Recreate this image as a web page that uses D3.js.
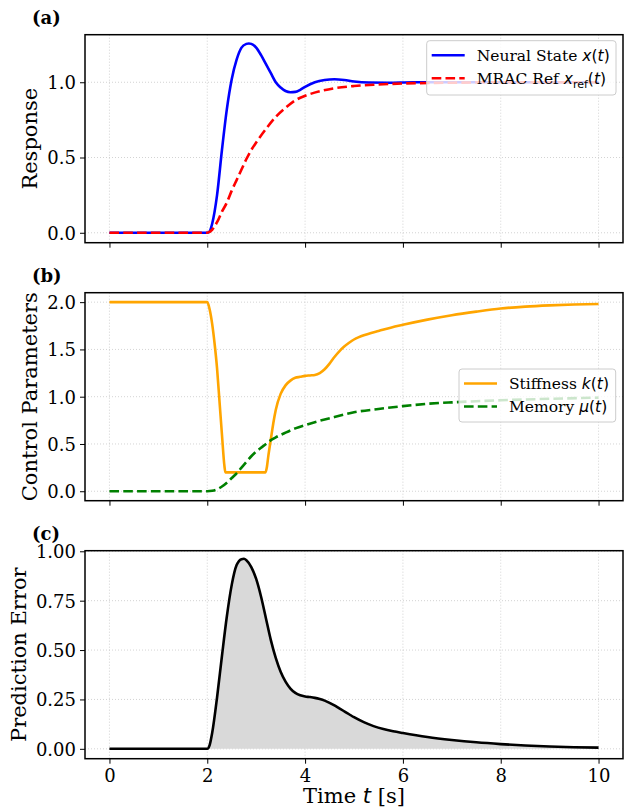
<!DOCTYPE html>
<html>
<head>
<meta charset="utf-8">
<script src="https://cdn.jsdelivr.net/npm/d3@7"></script>
<style>
  body { margin: 0; background: #fff; }
  text { font-family: "DejaVu Serif", serif; }
  .math { font-family: "DejaVu Sans", sans-serif; }
</style>
</head>
<body>
<svg id="chart" width="624" height="808"></svg>
<script>
// ---- data ----
let timeTicks = [0, 2, 4, 6, 8, 10];

// (a) neural state x(t)
let stateT = [0, 2.0, 2.05, 2.1, 2.2, 2.3, 2.4, 2.5, 2.6, 2.7, 2.8, 2.85, 2.9, 3.0, 3.1, 3.2, 3.3, 3.4,
  3.5, 3.6, 3.7, 3.8, 3.9, 4.0, 4.2, 4.4, 4.6, 4.8, 5.0, 5.3, 5.7, 6.2, 7, 8, 9, 10];
let stateX = [0, 0, 0.01, 0.06, 0.25, 0.55, 0.82, 1.02, 1.15, 1.23, 1.255, 1.258, 1.255, 1.23, 1.18, 1.12,
  1.06, 1.0, 0.965, 0.942, 0.934, 0.936, 0.95, 0.97, 1.0, 1.015, 1.02, 1.015, 1.005, 0.998, 0.997, 1.0,
  1.0, 1.0, 1.0, 1.0];

// (a) MRAC reference x_ref(t)
let refT = [0, 2.0, 2.1, 2.2, 2.3, 2.4, 2.5, 2.6, 2.7, 2.8, 2.9, 3.0, 3.2, 3.4, 3.6, 3.8, 4.0, 4.3, 4.6,
  5.0, 5.5, 6.0, 7.0, 8.0, 9.0, 10];
let refX = [0, 0, 0.02, 0.07, 0.14, 0.2, 0.28, 0.35, 0.42, 0.49, 0.55, 0.6, 0.69, 0.77, 0.83, 0.88, 0.91,
  0.94, 0.96, 0.975, 0.985, 0.992, 0.997, 1.0, 1.0, 1.0];

// (b) stiffness k(t)
let stiffT = [0, 2.0, 2.05, 2.1, 2.15, 2.2, 2.25, 2.3, 2.35, 2.37, 3.19, 3.22, 3.25, 3.3, 3.35, 3.4, 3.5,
  3.6, 3.7, 3.8, 3.9, 4.0, 4.1, 4.2, 4.3, 4.4, 4.5, 4.6, 4.7, 4.8, 4.9, 5.0, 5.1, 5.2, 5.35, 5.5, 5.75,
  6.0, 6.5, 7.0, 7.5, 8.0, 8.5, 9.0, 9.5, 10];
let stiffK = [2, 2, 1.92, 1.77, 1.56, 1.3, 0.95, 0.6, 0.27, 0.2, 0.2, 0.26, 0.38, 0.55, 0.72, 0.86, 1.03,
  1.12, 1.17, 1.2, 1.21, 1.22, 1.225, 1.23, 1.25, 1.29, 1.35, 1.42, 1.48, 1.53, 1.57, 1.605, 1.63, 1.65,
  1.675, 1.695, 1.73, 1.76, 1.815, 1.862, 1.9, 1.933, 1.953, 1.966, 1.975, 1.98];

// (b) memory mu(t)
let memT = [0, 2.0, 2.1, 2.2, 2.3, 2.4, 2.5, 2.6, 2.7, 2.8, 2.9, 3.0, 3.1, 3.2, 3.3, 3.4, 3.6, 3.8, 4.0,
  4.3, 4.6, 5.0, 5.5, 6.0, 6.5, 7.0, 7.5, 8.0, 9.0, 10];
let memMu = [0, 0, 0.005, 0.02, 0.05, 0.09, 0.14, 0.19, 0.25, 0.31, 0.37, 0.42, 0.46, 0.5, 0.54, 0.57,
  0.62, 0.665, 0.7, 0.745, 0.785, 0.835, 0.87, 0.9, 0.925, 0.94, 0.952, 0.962, 0.978, 0.99];

// (c) prediction error
let errT = [0, 2.0, 2.05, 2.1, 2.2, 2.3, 2.4, 2.5, 2.6, 2.7, 2.75, 2.8, 2.9, 3.0, 3.1, 3.2, 3.3, 3.4,
  3.5, 3.6, 3.7, 3.8, 3.9, 4.0, 4.1, 4.2, 4.3, 4.4, 4.5, 4.6, 4.7, 4.8, 4.9, 5.0, 5.2, 5.4, 5.6, 5.8,
  6.0, 6.5, 7.0, 7.5, 8.0, 8.5, 9.0, 9.5, 10];
let errE = [0, 0, 0.02, 0.08, 0.26, 0.47, 0.67, 0.83, 0.93, 0.96, 0.962, 0.955, 0.92, 0.86, 0.77, 0.66,
  0.55, 0.46, 0.39, 0.34, 0.305, 0.283, 0.271, 0.265, 0.262, 0.258, 0.252, 0.244, 0.233, 0.22, 0.205,
  0.19, 0.175, 0.16, 0.135, 0.115, 0.1, 0.089, 0.08, 0.06, 0.045, 0.033, 0.024, 0.017, 0.012, 0.008,
  0.006];

let ticksA = [0, 0.5, 1.0];
let ticksB = [0, 0.5, 1.0, 1.5, 2.0];
let ticksC = [0, 0.25, 0.5, 0.75, 1.0];

// ---- layout ----
let svg = d3.select('#chart');
let left = 85, right = 623, panelH = 208;
let tops = [34.7, 292.7, 550.7];

let xScale = d3.scaleLinear().domain([-0.5, 10.5]).range([left, right]);

function zip(ts, vs) {
  return ts.map((t, i) => ({t: t, v: vs[i]}));
}

function makePanel(top, yDomain, yTicks, fmt, showX) {
  let g = svg.append('g');
  let y = d3.scaleLinear().domain(yDomain).range([top + panelH, top]);

  // grid
  g.selectAll('.gx').data(timeTicks).enter().append('line')
    .attr('x1', (d) => xScale(d)).attr('x2', (d) => xScale(d))
    .attr('y1', top).attr('y2', top + panelH)
    .attr('stroke', '#c8c8c8').attr('stroke-width', 0.8).attr('stroke-dasharray', '1,2');
  g.selectAll('.gy').data(yTicks).enter().append('line')
    .attr('x1', left).attr('x2', right)
    .attr('y1', (d) => y(d)).attr('y2', (d) => y(d))
    .attr('stroke', '#c8c8c8').attr('stroke-width', 0.8).attr('stroke-dasharray', '1,2');

  // axes
  let yAxis = d3.axisLeft(y).tickValues(yTicks).tickFormat(d3.format(fmt)).tickSize(5).tickPadding(4);
  let ya = g.append('g').attr('transform', `translate(${left},0)`).call(yAxis);
  let xAxis = d3.axisBottom(xScale).tickValues(timeTicks).tickSize(5).tickPadding(5)
    .tickFormat(showX ? d3.format('d') : '');
  let xa = g.append('g').attr('transform', `translate(0,${top + panelH})`).call(xAxis);
  [ya, xa].forEach((a) => {
    a.select('.domain').remove();
    a.selectAll('line').attr('stroke', '#000').attr('stroke-width', 1);
    a.selectAll('text').attr('font-family', 'DejaVu Serif').attr('font-size', 18).attr('fill', '#000');
  });
  ya.selectAll('text').attr('dy', '0.36em');
  xa.selectAll('text').attr('dy', '0.76em');

  return {g: g, y: y, top: top};
}

function frame(p) {
  p.g.append('rect')
    .attr('x', left).attr('y', p.top).attr('width', right - left).attr('height', panelH)
    .attr('fill', 'none').attr('stroke', '#000').attr('stroke-width', 1.5);
}

function drawLine(p, data, color, dash) {
  let line = d3.line().x((d) => xScale(d.t)).y((d) => p.y(d.v)).curve(d3.curveMonotoneX);
  p.g.append('path').datum(data)
    .attr('d', line)
    .attr('fill', 'none')
    .attr('stroke', color)
    .attr('stroke-width', 2.6)
    .attr('stroke-dasharray', dash || null);
}

function panelLabel(text, top) {
  svg.append('text').attr('x', 32).attr('y', top - 11)
    .attr('font-size', 18).attr('font-weight', 'bold').text(text);
}

function yLabel(text, x, top) {
  svg.append('text')
    .attr('transform', `translate(${x},${top + panelH / 2}) rotate(-90)`)
    .attr('text-anchor', 'middle').attr('font-size', 21).text(text);
}

// legend entry: parts is list of [text, kind] with kind 'rm' | 'it' | 'sub' | 'mrm'
function legend(p, x, y, w, h, entries) {
  let lg = p.g.append('g');
  lg.append('rect').attr('x', x).attr('y', y).attr('width', w).attr('height', h)
    .attr('rx', 3).attr('fill', '#fff').attr('fill-opacity', 0.8)
    .attr('stroke', '#cccccc').attr('stroke-width', 1);
  entries.forEach((e, i) => {
    let cy = y + 14.5 + i * 23;
    lg.append('line').attr('x1', x + 5).attr('x2', x + 38).attr('y1', cy).attr('y2', cy)
      .attr('stroke', e.color).attr('stroke-width', 2.6).attr('stroke-dasharray', e.dash || null);
    let t = lg.append('text').attr('x', x + 50).attr('y', cy).attr('dy', '0.36em').attr('font-size', 15.5);
    e.parts.forEach((pt) => {
      let s = t.append('tspan').text(pt[0]);
      if (pt[1] === 'it') s.attr('class', 'math').attr('font-style', 'oblique');
      if (pt[1] === 'mrm') s.attr('class', 'math');
      if (pt[1] === 'sub') s.attr('class', 'math').attr('font-size', 11).attr('dy', 4);
      if (pt[1] === 'after') s.attr('class', 'math').attr('dy', -4);
    });
  });
}

// ---- panel (a) ----
let pa = makePanel(tops[0], [-0.066, 1.316], ticksA, '.1f', false);
drawLine(pa, zip(stateT, stateX), '#0000ff');
drawLine(pa, zip(refT, refX), '#ff0000', '9.6,4.2');
frame(pa);
legend(pa, 426.7, 40.7, 189.3, 54.3, [
  {color: '#0000ff', parts: [['Neural State ', 'rm'], ['x', 'it'], ['(', 'mrm'], ['t', 'it'], [')', 'mrm']]},
  {color: '#ff0000', dash: '9.6,4.2', parts: [['MRAC Ref ', 'rm'], ['x', 'it'], ['ref', 'sub'], ['(', 'after'], ['t', 'it'], [')', 'mrm']]}
]);
panelLabel('(a)', tops[0]);
yLabel('Response', 37, tops[0]);

// ---- panel (b) ----
let pb = makePanel(tops[1], [-0.1, 2.1], ticksB, '.1f', false);
drawLine(pb, zip(stiffT, stiffK), '#ffa500');
drawLine(pb, zip(memT, memMu), '#008000', '9.6,4.2');
frame(pb);
legend(pb, 459, 369, 156.7, 53, [
  {color: '#ffa500', parts: [['Stiffness ', 'rm'], ['k', 'it'], ['(', 'mrm'], ['t', 'it'], [')', 'mrm']]},
  {color: '#008000', dash: '9.6,4.2', parts: [['Memory ', 'rm'], ['μ', 'it'], ['(', 'mrm'], ['t', 'it'], [')', 'mrm']]}
]);
panelLabel('(b)', tops[1]);
yLabel('Control Parameters', 37, tops[1]);

// ---- panel (c) ----
let pc = makePanel(tops[2], [-0.05, 1.003], ticksC, '.2f', true);
let errData = zip(errT, errE);
let area = d3.area().x((d) => xScale(d.t)).y0(pc.y(0)).y1((d) => pc.y(d.v)).curve(d3.curveMonotoneX);
pc.g.append('path').datum(errData).attr('d', area).attr('fill', '#d9d9d9');
drawLine(pc, errData, '#000000');
frame(pc);
panelLabel('(c)', tops[2]);
yLabel('Prediction Error', 26, tops[2]);

// x label
let xl = svg.append('text').attr('x', (left + right) / 2).attr('y', 803)
  .attr('text-anchor', 'middle').attr('font-size', 21);
xl.append('tspan').text('Time ');
xl.append('tspan').attr('class', 'math').attr('font-style', 'oblique').text('t');
xl.append('tspan').text(' [s]');
</script>
</body>
</html>
